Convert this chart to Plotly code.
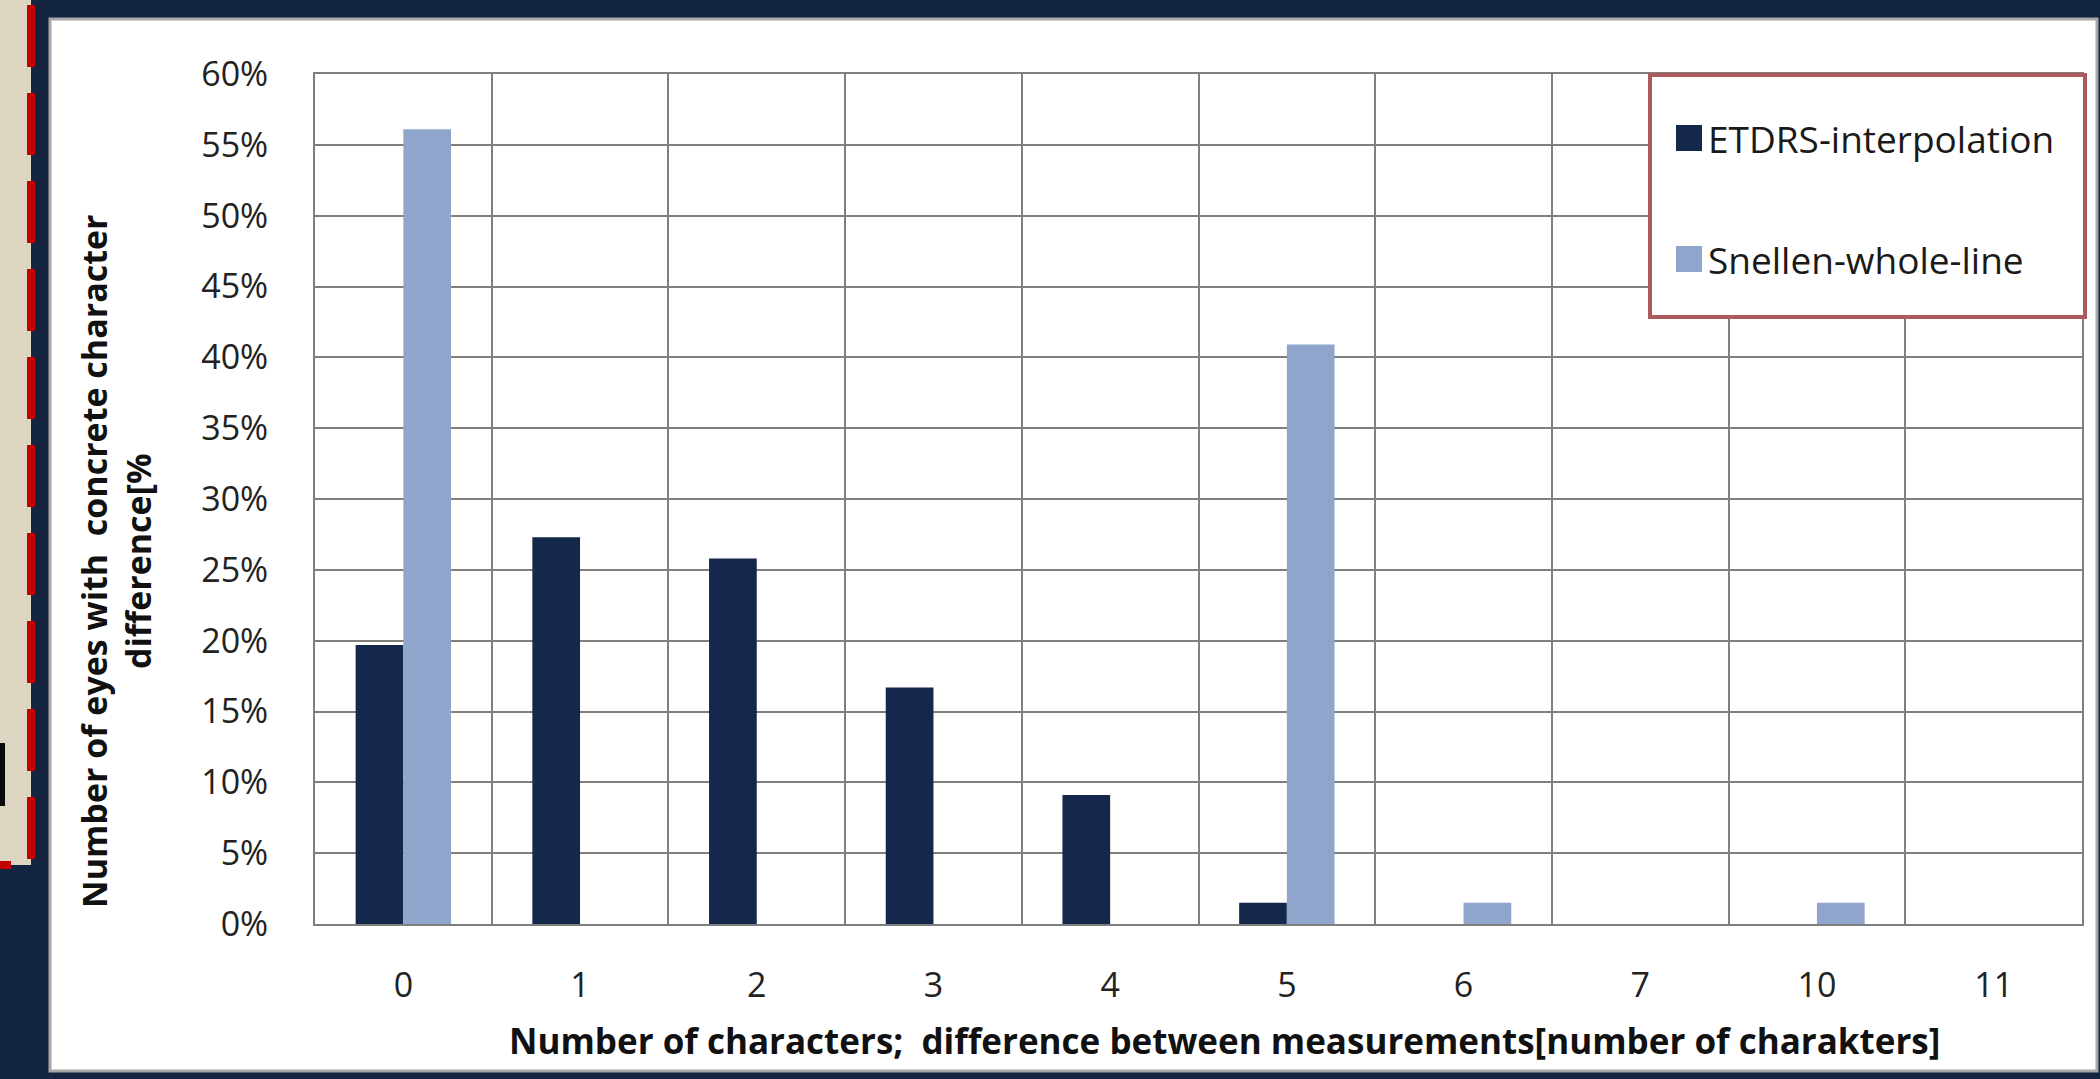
import plotly.graph_objects as go

# ---- data -------------------------------------------------------------
categories = ["0", "1", "2", "3", "4", "5", "6", "7", "10", "11"]
etdrs_values = [19.7, 27.3, 25.8, 16.7, 9.1, 1.5, 0.0, 0.0, 0.0, 0.0]
snellen_values = [56.1, 0.0, 0.0, 0.0, 0.0, 40.9, 1.5, 0.0, 1.5, 0.0]
series_names = ["ETDRS-interpolation", "Snellen-whole-line"]
y_ticks = [0, 5, 10, 15, 20, 25, 30, 35, 40, 45, 50, 55, 60]

x_title = "Number of characters;  difference between measurements[number of charakters]"
y_title = "Number of eyes with  concrete character<br>difference[%"

# ---- style ------------------------------------------------------------
W, H = 2100, 1079
ML, MR, MT, MB = 315, 18, 74, 155
NAVY_BG = "#12243f"
ETDRS_COLOR = "#13284b"
SNELLEN_COLOR = "#8fa5cc"
GRID = "#7f7f7f"
FONT = "Open Sans"


def px_x(px):
    return (px - ML) / (W - ML - MR)


def px_y(py):
    return 1 - (py - MT) / (H - MT - MB)


def rect(x0, y0, x1, y1, fill, line_color=None, line_width=0, layer="above"):
    return dict(
        type="rect", xref="paper", yref="paper",
        x0=px_x(x0), x1=px_x(x1), y0=px_y(y1), y1=px_y(y0),
        fillcolor=fill,
        line=dict(color=line_color or fill, width=line_width),
        layer=layer,
    )


fig = go.Figure()
fig.add_trace(go.Bar(x=categories, y=etdrs_values, name=series_names[0],
                     marker=dict(color=ETDRS_COLOR, line=dict(width=0)),
                     showlegend=False))
fig.add_trace(go.Bar(x=categories, y=snellen_values, name=series_names[1],
                     marker=dict(color=SNELLEN_COLOR, line=dict(width=0)),
                     showlegend=False))

shapes = []
# white chart card
shapes.append(rect(50, 19, 2097, 1071, "white", "#a8a8a8", 3, layer="below"))
# beige side panel with red dashed edge
shapes.append(rect(-10, -10, 31, 865, "#dcd5c1", layer="below"))
for k in range(10):
    y0 = 5 + 88 * k
    shapes.append(rect(27, y0, 35, y0 + 62, "#c40000", layer="below"))
shapes.append(rect(-10, 861, 11, 869, "#c40000", layer="below"))
shapes.append(rect(-10, 743, 5, 806, "#0a0a0a", layer="below"))

# legend frame and swatches
shapes.append(rect(1650, 75, 2085, 317, "white", "#ad5a5c", 4))
shapes.append(rect(1676, 125, 1702, 151, ETDRS_COLOR))
shapes.append(rect(1676, 246, 1702, 272, SNELLEN_COLOR))

annotations = [
    dict(text=series_names[0], x=px_x(1706), y=px_y(138), xref="paper", yref="paper",
         xanchor="left", yanchor="middle", showarrow=False,
         font=dict(family=FONT, size=37, color="#1a1a1a")),
    dict(text=series_names[1], x=px_x(1706), y=px_y(259), xref="paper", yref="paper",
         xanchor="left", yanchor="middle", showarrow=False,
         font=dict(family=FONT, size=37, color="#1a1a1a")),
    dict(text=x_title, x=px_x(1224), y=px_y(1040), xref="paper", yref="paper",
         xanchor="center", yanchor="middle", showarrow=False,
         font=dict(family=FONT, size=35, color="#111111", weight="bold")),
    dict(text=y_title, x=px_x(116), y=px_y(562), xref="paper", yref="paper",
         xanchor="center", yanchor="middle", showarrow=False, textangle=-90,
         font=dict(family=FONT, size=34, color="#111111", weight="bold")),
]

fig.update_layout(
    width=W, height=H,
    margin=dict(l=ML, r=MR, t=MT, b=MB, pad=0),
    paper_bgcolor=NAVY_BG,
    plot_bgcolor="white",
    barmode="group",
    bargap=0.46,
    bargroupgap=0,
    showlegend=False,
    shapes=shapes,
    annotations=annotations,
    font=dict(family=FONT, size=35, color="#222222"),
)

fig.update_xaxes(
    type="category",
    categoryorder="array", categoryarray=categories,
    tickson="boundaries",
    showgrid=True, gridcolor=GRID, gridwidth=2,
    showline=True, linecolor=GRID, linewidth=2, mirror=True,
    ticks="", ticklabelstandoff=30,
    tickfont=dict(family=FONT, size=34, color="#222222"),
    zeroline=False,
)
fig.update_yaxes(
    range=[0, 60],
    tickvals=y_ticks,
    ticktext=[f"{v}%" for v in y_ticks],
    showgrid=True, gridcolor=GRID, gridwidth=2,
    showline=True, linecolor=GRID, linewidth=2, mirror=True,
    ticks="", ticklabelstandoff=38,
    tickfont=dict(family=FONT, size=34, color="#222222"),
    zeroline=False,
)

fig.write_html("out.html")
